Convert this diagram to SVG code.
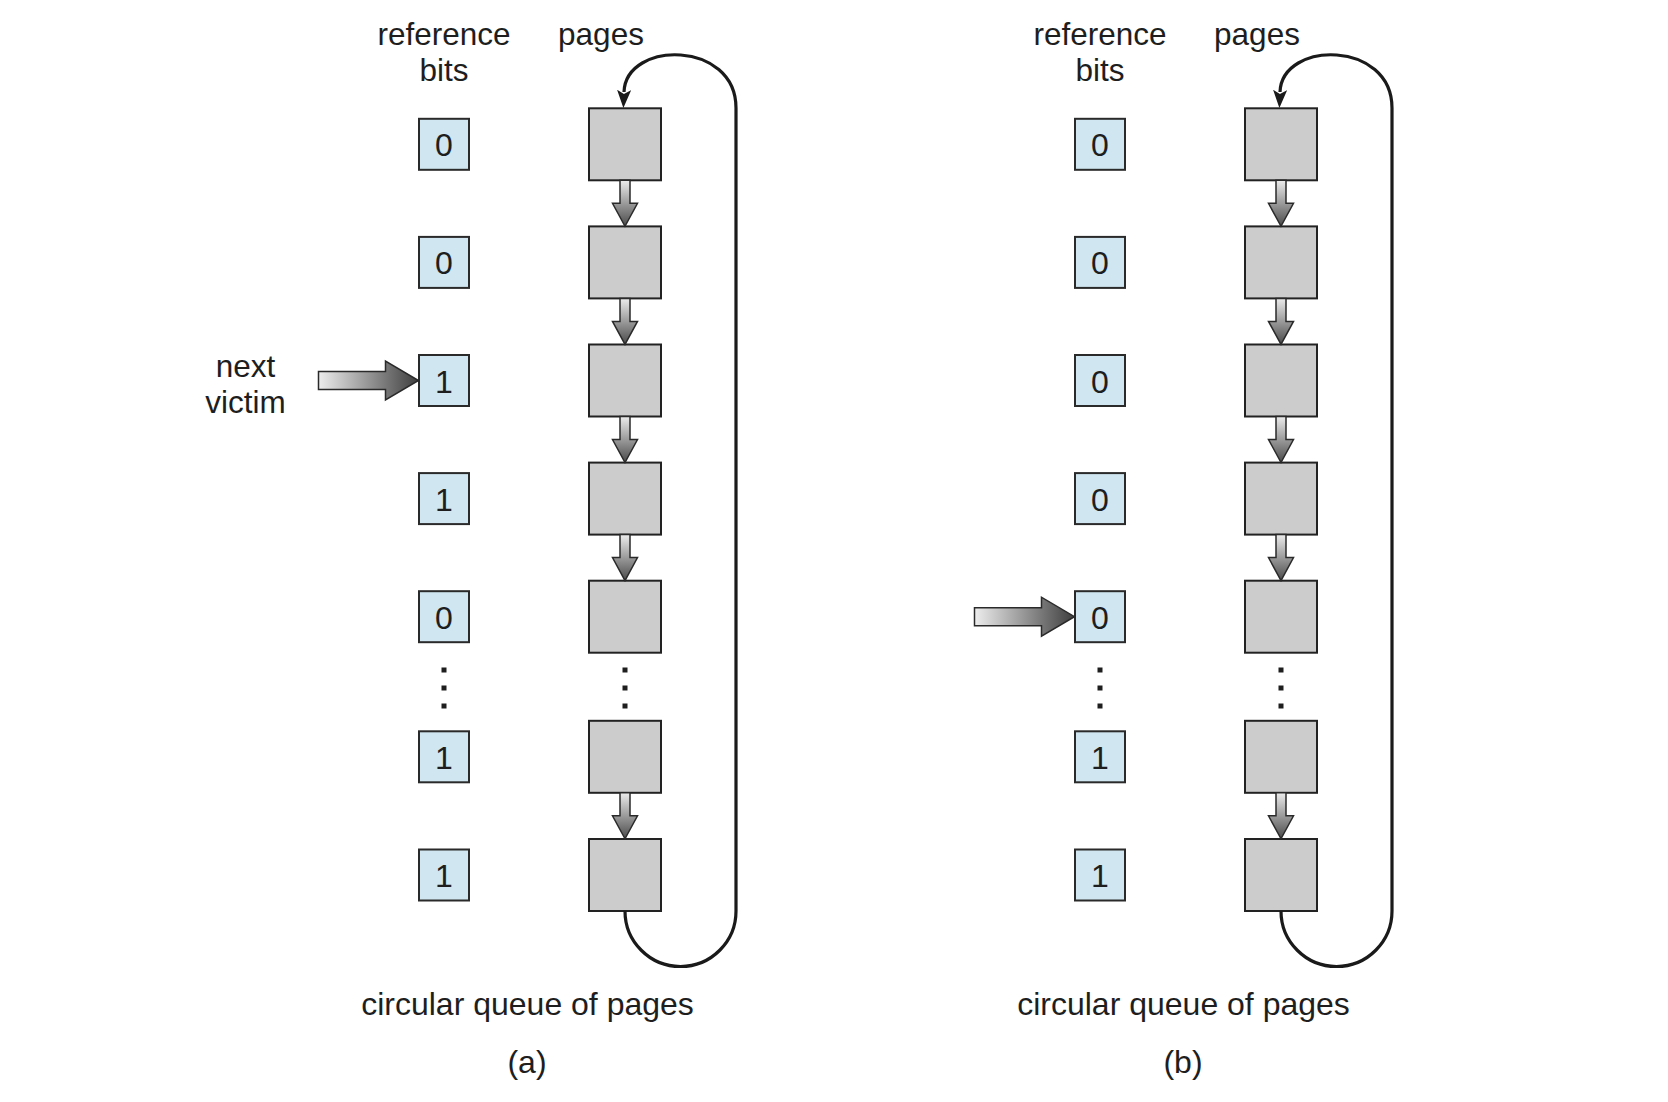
<svg xmlns="http://www.w3.org/2000/svg" xmlns:xlink="http://www.w3.org/1999/xlink" width="1668" height="1102" viewBox="0 0 1668 1102">
<style>
  text { font-family: "Liberation Sans", Arial, Helvetica, sans-serif; fill: #1e1e1e; }
  .lbl { font-size: 31.5px; text-anchor: middle; }
  .cap { font-size: 32px; text-anchor: middle; }
  .dig { font-size: 32px; text-anchor: middle; }
  .bit { fill: #d0e6f0; stroke: #2a2a2a; stroke-width: 2; }
  .page { fill: #cccccc; stroke: #222222; stroke-width: 2; }
  .dot { fill: #1e1e1e; }
  .loop { fill: none; stroke: #1a1a1a; stroke-width: 3.2; }
  .darr { fill: url(#gv); stroke: #2a2a2a; stroke-width: 1.5; stroke-linejoin: miter; }
  .harr { fill: url(#gh); stroke: #2a2a2a; stroke-width: 1.5; stroke-linejoin: miter; }
</style>
<defs>
  <linearGradient id="gv" x1="0" y1="0" x2="0" y2="1">
    <stop offset="0" stop-color="#ececec"/>
    <stop offset="1" stop-color="#4a4a4a"/>
  </linearGradient>
  <linearGradient id="gh" x1="0" y1="0" x2="1" y2="0">
    <stop offset="0" stop-color="#ededed"/>
    <stop offset="1" stop-color="#3e3e3e"/>
  </linearGradient>
  <path id="darrow" d="M -5 0 L 5 0 L 5 23 L 12.5 23 L 0 46 L -12.5 23 L -5 23 Z"/>
  <path id="harrow" d="M -100 -9 L -33 -9 L -33 -19.5 L 0 0 L -33 19.5 L -33 9 L -100 9 Z"/>
  <marker id="head" viewBox="0 0 18 14" refX="2" refY="7" markerWidth="18" markerHeight="14" orient="auto" markerUnits="userSpaceOnUse">
    <path d="M0 0 L18 7 L0 14 L4 7 Z" fill="#1a1a1a"/>
  </marker>
</defs>
<rect x="0" y="0" width="1668" height="1102" fill="#ffffff"/>

<!-- Panel (a) -->
<g id="panel-a">
  <g id="a-headers">
    <text class="lbl" x="444" y="44.5">reference</text>
    <text class="lbl" x="444" y="80.5">bits</text>
    <text class="lbl" x="601" y="44.5">pages</text>
  </g>
  <g id="a-next-victim-label">
    <text class="lbl" x="245.5" y="377">next</text>
    <text class="lbl" x="245.5" y="412.5">victim</text>
  </g>
  <g id="a-bit-1"><rect class="bit" x="419" y="118.8" width="50" height="51"/><text class="dig" x="444" y="156.3">0</text></g>
  <g id="a-bit-2"><rect class="bit" x="419" y="236.9" width="50" height="51"/><text class="dig" x="444" y="274.4">0</text></g>
  <g id="a-bit-3"><rect class="bit" x="419" y="355" width="50" height="51"/><text class="dig" x="444" y="392.5">1</text></g>
  <g id="a-bit-4"><rect class="bit" x="419" y="473.1" width="50" height="51"/><text class="dig" x="444" y="510.6">1</text></g>
  <g id="a-bit-5"><rect class="bit" x="419" y="591.2" width="50" height="51"/><text class="dig" x="444" y="628.7">0</text></g>
  <g id="a-bit-6"><rect class="bit" x="419" y="731.3" width="50" height="51"/><text class="dig" x="444" y="768.8">1</text></g>
  <g id="a-bit-7"><rect class="bit" x="419" y="849.5" width="50" height="51"/><text class="dig" x="444" y="887">1</text></g>
  <g id="a-bit-dots">
    <rect class="dot" x="441.5" y="667.5" width="5" height="5"/>
    <rect class="dot" x="441.5" y="685.5" width="5" height="5"/>
    <rect class="dot" x="441.5" y="703.5" width="5" height="5"/>
  </g>
  <g id="a-page-1"><rect class="page" x="589" y="108.3" width="72" height="72"/></g>
  <g id="a-page-2"><rect class="page" x="589" y="226.4" width="72" height="72"/></g>
  <g id="a-page-3"><rect class="page" x="589" y="344.5" width="72" height="72"/></g>
  <g id="a-page-4"><rect class="page" x="589" y="462.6" width="72" height="72"/></g>
  <g id="a-page-5"><rect class="page" x="589" y="580.7" width="72" height="72"/></g>
  <g id="a-page-6"><rect class="page" x="589" y="720.8" width="72" height="72"/></g>
  <g id="a-page-7"><rect class="page" x="589" y="839" width="72" height="72"/></g>
  <g id="a-page-dots">
    <rect class="dot" x="622.5" y="667.5" width="5" height="5"/>
    <rect class="dot" x="622.5" y="685.5" width="5" height="5"/>
    <rect class="dot" x="622.5" y="703.5" width="5" height="5"/>
  </g>
  <g id="a-connectors">
    <use class="darr" href="#darrow" xlink:href="#darrow" x="625" y="180.3"/>
    <use class="darr" href="#darrow" xlink:href="#darrow" x="625" y="298.4"/>
    <use class="darr" href="#darrow" xlink:href="#darrow" x="625" y="416.5"/>
    <use class="darr" href="#darrow" xlink:href="#darrow" x="625" y="534.6"/>
    <use class="darr" href="#darrow" xlink:href="#darrow" x="625" y="792.8"/>
    <path class="loop" d="M 625 911 A 55.5 55.5 0 0 0 736 911 L 736 108 C 736 40, 626 40, 624 92" marker-end="url(#head)"/>
    <use class="harr" href="#harrow" xlink:href="#harrow" x="418.5" y="380.5"/>
  </g>
  <g id="a-caption">
    <text class="cap" x="527.5" y="1015">circular queue of pages</text>
    <text class="cap" x="527" y="1073">(a)</text>
  </g>
</g>

<!-- Panel (b) -->
<g id="panel-b" transform="translate(656,0)">
  <g id="b-headers">
    <text class="lbl" x="444" y="44.5">reference</text>
    <text class="lbl" x="444" y="80.5">bits</text>
    <text class="lbl" x="601" y="44.5">pages</text>
  </g>
  <g id="b-bit-1"><rect class="bit" x="419" y="118.8" width="50" height="51"/><text class="dig" x="444" y="156.3">0</text></g>
  <g id="b-bit-2"><rect class="bit" x="419" y="236.9" width="50" height="51"/><text class="dig" x="444" y="274.4">0</text></g>
  <g id="b-bit-3"><rect class="bit" x="419" y="355" width="50" height="51"/><text class="dig" x="444" y="392.5">0</text></g>
  <g id="b-bit-4"><rect class="bit" x="419" y="473.1" width="50" height="51"/><text class="dig" x="444" y="510.6">0</text></g>
  <g id="b-bit-5"><rect class="bit" x="419" y="591.2" width="50" height="51"/><text class="dig" x="444" y="628.7">0</text></g>
  <g id="b-bit-6"><rect class="bit" x="419" y="731.3" width="50" height="51"/><text class="dig" x="444" y="768.8">1</text></g>
  <g id="b-bit-7"><rect class="bit" x="419" y="849.5" width="50" height="51"/><text class="dig" x="444" y="887">1</text></g>
  <g id="b-bit-dots">
    <rect class="dot" x="441.5" y="667.5" width="5" height="5"/>
    <rect class="dot" x="441.5" y="685.5" width="5" height="5"/>
    <rect class="dot" x="441.5" y="703.5" width="5" height="5"/>
  </g>
  <g id="b-page-1"><rect class="page" x="589" y="108.3" width="72" height="72"/></g>
  <g id="b-page-2"><rect class="page" x="589" y="226.4" width="72" height="72"/></g>
  <g id="b-page-3"><rect class="page" x="589" y="344.5" width="72" height="72"/></g>
  <g id="b-page-4"><rect class="page" x="589" y="462.6" width="72" height="72"/></g>
  <g id="b-page-5"><rect class="page" x="589" y="580.7" width="72" height="72"/></g>
  <g id="b-page-6"><rect class="page" x="589" y="720.8" width="72" height="72"/></g>
  <g id="b-page-7"><rect class="page" x="589" y="839" width="72" height="72"/></g>
  <g id="b-page-dots">
    <rect class="dot" x="622.5" y="667.5" width="5" height="5"/>
    <rect class="dot" x="622.5" y="685.5" width="5" height="5"/>
    <rect class="dot" x="622.5" y="703.5" width="5" height="5"/>
  </g>
  <g id="b-connectors">
    <use class="darr" href="#darrow" xlink:href="#darrow" x="625" y="180.3"/>
    <use class="darr" href="#darrow" xlink:href="#darrow" x="625" y="298.4"/>
    <use class="darr" href="#darrow" xlink:href="#darrow" x="625" y="416.5"/>
    <use class="darr" href="#darrow" xlink:href="#darrow" x="625" y="534.6"/>
    <use class="darr" href="#darrow" xlink:href="#darrow" x="625" y="792.8"/>
    <path class="loop" d="M 625 911 A 55.5 55.5 0 0 0 736 911 L 736 108 C 736 40, 626 40, 624 92" marker-end="url(#head)"/>
    <use class="harr" href="#harrow" xlink:href="#harrow" x="418.5" y="616.7"/>
  </g>
  <g id="b-caption">
    <text class="cap" x="527.5" y="1015">circular queue of pages</text>
    <text class="cap" x="527" y="1073">(b)</text>
  </g>
</g>
</svg>
